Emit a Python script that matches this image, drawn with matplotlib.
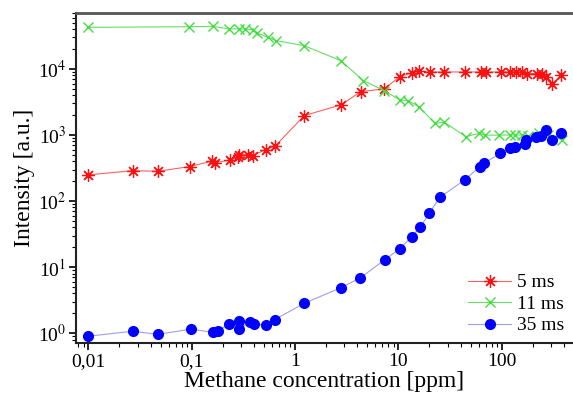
import numpy as np
import matplotlib
matplotlib.use("Agg")
import matplotlib.pyplot as plt
from matplotlib.ticker import FixedLocator, LogLocator, NullFormatter

plt.rcParams['font.family'] = ['Liberation Serif', 'DejaVu Serif']
plt.rcParams['mathtext.fontset'] = 'stix'

# 5 ms
x_5 = [0.01, 0.027, 0.047, 0.096, 0.156, 0.168, 0.235, 0.28, 0.29, 0.35, 0.39, 0.52, 0.64,
       1.23, 2.77, 4.36, 7.3, 10.3, 13.5, 16, 20.3, 27.9, 44.3, 63.6, 69.8, 97.9, 120, 139,
       158, 175, 218, 245, 270, 310, 375]
y_5 = [249, 289, 282, 333, 400, 378, 420, 460, 500, 505, 488, 601, 675,
       1968, 2853, 4540, 4980, 7650, 8710, 9200, 9000, 9000, 9000, 9000, 9000, 9000, 9000, 9000,
       9000, 8500, 8500, 8500, 7650, 6000, 8000]

# 11 ms
x_11 = [0.01, 0.095, 0.162, 0.23, 0.29, 0.33, 0.39, 0.43, 0.55, 0.66, 1.23, 2.77, 4.6, 7.3,
        10.3, 12.5, 15.7, 22.7, 27.9, 44.9, 61, 69.5, 94.5, 120, 135, 158, 180, 230, 280, 380]
y_11 = [42600, 43600, 44000, 40300, 40300, 40300, 39000, 35000, 30000, 26800, 22500, 13360,
        6650, 4700, 3400, 3300, 2690, 1500, 1560, 946, 1060, 995, 995, 1000, 1000, 1000, 950,
        1080, 1000, 850]

# 35 ms
x_35 = [0.01, 0.027, 0.047, 0.098, 0.162, 0.18, 0.23, 0.29, 0.29, 0.37, 0.40, 0.52, 0.64,
        1.23, 2.77, 4.29, 7.38, 10.4, 13.5, 16.3, 19.9, 25.3, 44.2, 61.7, 67.9, 96.4, 120,
        135, 168, 171, 214, 239, 269, 305, 375]
y_35 = [0.9, 1.07, 0.96, 1.15, 1.03, 1.08, 1.39, 1.52, 1.17, 1.47, 1.40, 1.31, 1.61,
        2.84, 4.86, 6.88, 12.9, 19.1, 29.0, 40.1, 65.5, 114, 211, 333, 373, 529, 640,
        668, 735, 844, 925, 980, 1204, 844, 1076]

x_ticks = [0.01, 0.1, 1, 10, 100]
x_tick_labels = ['0,01', '0,1', '1', '10', '100']
y_ticks = [1, 10, 100, 1000, 10000]
y_tick_labels = ['10$^{0}$', '10$^{1}$', '10$^{2}$', '10$^{3}$', '10$^{4}$']

fig = plt.figure(figsize=(5.73, 3.97), dpi=100)
ax = fig.add_axes([0.1326, 0.136, 0.8674, 0.832])

ax.plot(x_5, y_5, color='#ff6060', lw=0.8, marker=(8, 2, 0), ms=9, mec='#ff1010',
        mfc='#ff1010', mew=0.9, label='5 ms')
ax.plot(x_11, y_11, color='#66dd66', lw=0.8, marker='x', ms=7.5, mec='#44dd44',
        mew=1.0, label='11 ms')
ax.plot(x_35, y_35, color='#9f9fe8', lw=0.8, marker='o', ms=7, mec='#0000ff',
        mfc='#0000ff', label='35 ms')

ax.set_xscale('log')
ax.set_yscale('log')
ax.set_xlim(0.0076, 490)
ax.set_ylim(0.71, 71000)

ax.xaxis.set_major_locator(FixedLocator(x_ticks))
ax.set_xticklabels(x_tick_labels)
ax.xaxis.set_minor_locator(LogLocator(base=10, subs=np.arange(2, 10)))
ax.xaxis.set_minor_formatter(NullFormatter())
ax.yaxis.set_major_locator(FixedLocator(y_ticks))
ax.set_yticklabels(y_tick_labels)
ax.yaxis.set_minor_locator(LogLocator(base=10, subs=np.arange(2, 10)))
ax.yaxis.set_minor_formatter(NullFormatter())

ax.tick_params(which='major', direction='out', length=5, width=1.2, labelsize=14, pad=2)
ax.tick_params(which='minor', direction='out', length=3, width=0.8)
ax.tick_params(top=False, right=False)

for s in ['left', 'bottom']:
    ax.spines[s].set_linewidth(1.5)
    ax.spines[s].set_color('#222222')
ax.spines['top'].set_linewidth(2)
ax.spines['top'].set_color('#555555')
ax.spines['right'].set_visible(False)

ax.set_xlabel('Methane concentration [ppm]', fontsize=17, labelpad=1)
ax.set_ylabel('Intensity [a.u.]', fontsize=17, labelpad=2)

ax.legend(loc='lower right', frameon=False, fontsize=14, handlelength=2.2,
          handletextpad=0.3, labelspacing=0.2, borderaxespad=0.3,
          bbox_to_anchor=(1.01, -0.015))

fig.savefig('out.png', dpi=100)
